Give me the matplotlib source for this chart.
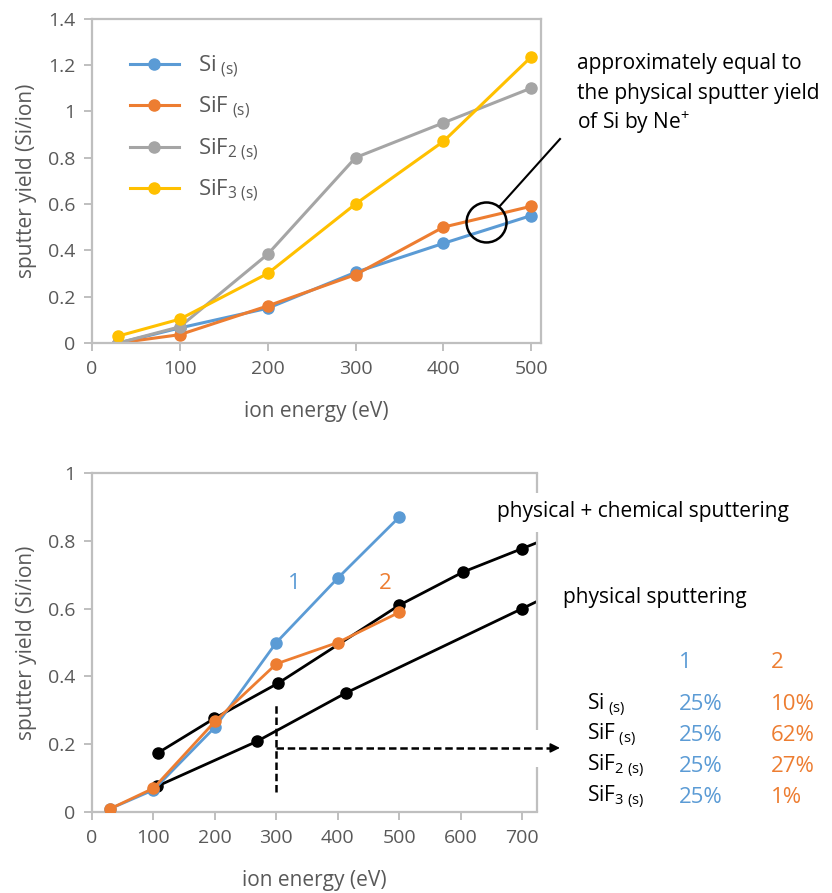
import matplotlib
matplotlib.use("Agg")
import matplotlib.pyplot as plt
from matplotlib.lines import Line2D
from matplotlib.patches import Ellipse

plt.rcParams['font.family'] = ['Open Sans', 'DejaVu Sans']
plt.rcParams['mathtext.fontset'] = 'custom'
plt.rcParams['mathtext.rm'] = 'Open Sans'
plt.rcParams['mathtext.it'] = 'Open Sans:italic'
plt.rcParams['mathtext.default'] = 'rm'

# sputter yields of the four product species (top panel)
energy_top = [30, 100, 200, 300, 400, 500]
si = [0.0, 0.065, 0.15, 0.305, 0.43, 0.55]
sif = [0.0, 0.036, 0.16, 0.295, 0.50, 0.59]
sif2 = [0.0, 0.07, 0.383, 0.80, 0.95, 1.10]
sif3 = [0.03, 0.103, 0.30, 0.60, 0.87, 1.235]
species = ["Si$_{\\ (s)}$", "SiF$_{\\ (s)}$", "SiF$_{2\\ (s)}$", "SiF$_{3\\ (s)}$"]

# mixtures 1 and 2 (bottom panel)
energy_mix = [30, 100, 200, 300, 400, 500]
mix1 = [0.01, 0.065, 0.25, 0.50, 0.69, 0.87]
mix2 = [0.01, 0.07, 0.267, 0.437, 0.50, 0.589]
# reference curves, last point only carries the line to the frame edge
phys_chem_x = [107, 199, 303, 500, 604, 700, 740]
phys_chem_y = [0.174, 0.276, 0.38, 0.61, 0.708, 0.777, 0.806]
phys_x = [106, 268, 413, 700, 740]
phys_y = [0.076, 0.208, 0.351, 0.60, 0.635]

table_rows = ["Si$_{\\ (s)}$", "SiF$_{\\ (s)}$", "SiF$_{2\\ (s)}$", "SiF$_{3\\ (s)}$"]
table_mix1 = ["25%", "25%", "25%", "25%"]
table_mix2 = ["10%", "62%", "27%", "1%"]

BLUE = '#5B9BD5'
ORANGE = '#ED7D31'
GRAY = '#A5A5A5'
YELLOW = '#FFC000'
AXIS = '#BFBFBF'
TICK = '#595959'

W, H = 832, 893


def fx(x):
    return x / W


def fy(y):
    return 1 - y / H


def style_axes(ax):
    for s in ax.spines.values():
        s.set_color(AXIS)
        s.set_linewidth(1.6)
    ax.tick_params(colors=AXIS, labelcolor=TICK, labelsize=14, length=6,
                   width=1.4, direction='out', pad=6)
    ax.set_xlabel("ion energy (eV)", fontsize=15, color=TICK, labelpad=17)
    ax.set_ylabel("sputter yield (Si/ion)", fontsize=15, color=TICK, labelpad=8)


fig = plt.figure(figsize=(W / 100, H / 100), dpi=100)

# ---- top panel ----
ax1 = fig.add_axes([fx(92), fy(343), (541 - 92) / W, (343 - 18.5) / H])
kw = dict(lw=2.2, marker='o', markersize=8)
for vals, col, lab in zip([si, sif, sif2, sif3], [BLUE, ORANGE, GRAY, YELLOW], species):
    ax1.plot(energy_top, vals, color=col, label=lab, **kw)
ax1.set_xlim(0, 511)
ax1.set_ylim(0, 1.4)
ax1.set_xticks(range(0, 501, 100))
ax1.set_yticks([0, 0.2, 0.4, 0.6, 0.8, 1.0, 1.2, 1.4])
ax1.set_yticklabels(["0", "0.2", "0.4", "0.6", "0.8", "1", "1.2", "1.4"])
style_axes(ax1)
fig.legend(loc='upper left', bbox_to_anchor=(fx(130), fy(53)),
           frameon=False, fontsize=16, handlelength=2.2, handletextpad=0.85,
           labelspacing=0.68, labelcolor=TICK, borderpad=0, borderaxespad=0)

# circled region near 450 eV and its callout
ax1.add_patch(Ellipse((449, 0.52), 40 / 0.878, 40 / 232, fill=False, ec='k', lw=1.8, zorder=5))
fig.add_artist(Line2D([fx(499), fx(560)], [fy(207), fy(139)], color='k', lw=1.5))
fig.text(fx(577), fy(63), "approximately equal to", fontsize=15, va='center')
fig.text(fx(577), fy(93), "the physical sputter yield", fontsize=15, va='center')
fig.text(fx(577), fy(123), "of Si by Ne$^{+}$", fontsize=15, va='center')

# ---- bottom panel ----
ax2 = fig.add_axes([fx(92), fy(812), (537.5 - 92) / W, 339 / H])
ax2.plot(phys_chem_x, phys_chem_y, color='k', lw=2, marker='o', markersize=8,
         markevery=list(range(len(phys_chem_x) - 1)), zorder=2)
ax2.plot(phys_x, phys_y, color='k', lw=2, marker='o', markersize=8,
         markevery=list(range(len(phys_x) - 1)), zorder=2)
ax2.plot(energy_mix, mix1, color=BLUE, lw=2, marker='o', markersize=8, zorder=3)
ax2.plot(energy_mix, mix2, color=ORANGE, lw=2, marker='o', markersize=8, zorder=4)
ax2.set_xlim(0, 725)
ax2.set_ylim(0, 1)
ax2.set_xticks(range(0, 701, 100))
ax2.set_yticks([0, 0.2, 0.4, 0.6, 0.8, 1.0])
ax2.set_yticklabels(["0", "0.2", "0.4", "0.6", "0.8", "1"])
style_axes(ax2)

# right frame is interrupted where the labels and arrow pass
ax2.spines['right'].set_visible(False)
for y0, y1 in [(812, 767), (730, 532), (493, 473)]:
    ax2.plot([1, 1], [(812 - y0) / 339, (812 - y1) / 339], transform=ax2.transAxes,
             color=AXIS, lw=1.6, clip_on=False, solid_capstyle='butt')

ax2.text(330, 0.675, "1", color=BLUE, fontsize=16, ha='center', va='center')
ax2.text(478, 0.675, "2", color=ORANGE, fontsize=16, ha='center', va='center')

# dashed marker at 300 eV and arrow to the composition table
ax2.plot([300, 300], [0.059, 0.317], color='k', lw=1.8, ls=(0, (3, 1.5)))
ax2.plot([300, 752], [0.189, 0.189], color='k', lw=1.8, ls=(0, (3, 1.5)), clip_on=False)
ax2.annotate('', xy=(766, 0.189), xytext=(748, 0.189),
             arrowprops=dict(arrowstyle='-|>', color='k', lw=1.2, mutation_scale=14),
             annotation_clip=False)

fig.text(fx(497), fy(512), "physical + chemical sputtering", fontsize=15, va='center')
fig.text(fx(563), fy(598), "physical sputtering", fontsize=15, va='center')

fig.text(fx(685), fy(662), "1", color=BLUE, fontsize=16, ha='center', va='center')
fig.text(fx(777), fy(662), "2", color=ORANGE, fontsize=16, ha='center', va='center')
for i, (lab, a, b) in enumerate(zip(table_rows, table_mix1, table_mix2)):
    y = 705 + i * 30.7
    fig.text(fx(587), fy(y), lab, fontsize=15, va='center')
    fig.text(fx(679), fy(y), a, color=BLUE, fontsize=16, va='center')
    fig.text(fx(771), fy(y), b, color=ORANGE, fontsize=16, va='center')

fig.savefig("out.png", dpi=100)
